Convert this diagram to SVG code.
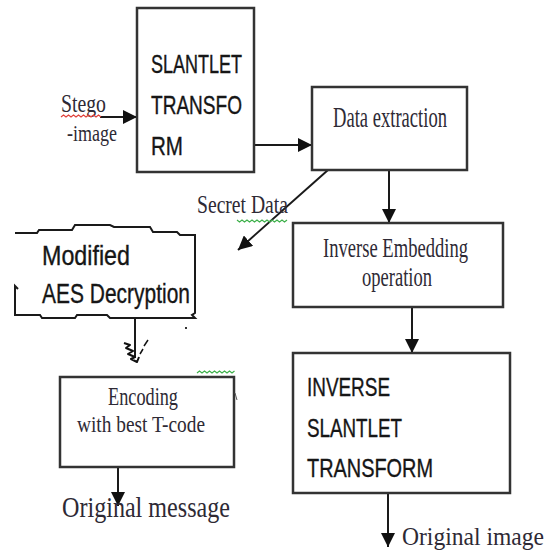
<svg xmlns="http://www.w3.org/2000/svg" width="556" height="560" viewBox="0 0 556 560">
  <style>
    .box { fill: #ffffff; stroke: #333333; stroke-width: 2.5; }
    .edge { stroke: #1a1a1a; stroke-width: 2; fill: none; }
    .sans { font-family: "Liberation Sans", Arial, sans-serif; fill: #161616; stroke: #161616; stroke-width: 0.35; }
    .serif { font-family: "Liberation Serif", "Times New Roman", serif; fill: #2e2a35; }
    .squig-red { stroke: #e0403a; stroke-width: 1.2; fill: none; }
    .squig-green { stroke: #3db04a; stroke-width: 1.2; fill: none; }
  </style>
  <defs>
    <marker id="arrow" viewBox="0 0 14 14" refX="14" refY="7" markerWidth="14" markerHeight="14" markerUnits="userSpaceOnUse" orient="auto">
      <path d="M0,0 L14,7 L0,14 Z" fill="#111111"/>
    </marker>
  </defs>

  <rect width="556" height="560" fill="#ffffff"/>

  <!-- connectors -->
  <g id="connectors">
    <line class="edge" x1="100" y1="117" x2="137" y2="117" marker-end="url(#arrow)"/>
    <line class="edge" x1="254" y1="145" x2="312" y2="145" marker-end="url(#arrow)"/>
    <line class="edge" x1="389" y1="170" x2="389" y2="223" marker-end="url(#arrow)"/>
    <line class="edge" x1="328" y1="170" x2="238" y2="250" marker-end="url(#arrow)"/>
    <line class="edge" x1="412" y1="307" x2="412" y2="353" marker-end="url(#arrow)"/>
    <line class="edge" x1="388" y1="493" x2="388" y2="547" marker-end="url(#arrow)"/>
    <line class="edge" x1="118" y1="460" x2="118" y2="506" marker-end="url(#arrow)"/>
    <!-- hand-drawn arrow below the decryption block -->
    <line class="edge" x1="135" y1="319" x2="135" y2="358" stroke-width="1.5"/>
    <path d="M124,343 L130,345 L126,348 L133,351 L128,354 L135,357 L131,359 L137,362 L139,357" stroke="#111" stroke-width="2" fill="none" stroke-linejoin="round"/>
    <path d="M140,354 L143,349 M144,346 L148,340" stroke="#111" stroke-width="1.5" fill="none"/>
  </g>

  <!-- input label -->
  <g id="stego-image">
    <text class="serif" x="61" y="112" font-size="25" textLength="45" lengthAdjust="spacingAndGlyphs">Stego</text>
    <path class="squig-red" d="M61,117 l2.5,-2 l2.5,2 l2.5,-2 l2.5,2 l2.5,-2 l2.5,2 l2.5,-2 l2.5,2 l2.5,-2 l2.5,2 l2.5,-2 l2.5,2 l2.5,-2 l2.5,2 l2.5,-2 l2.5,2"/>
    <text class="serif" x="67" y="141" font-size="24" textLength="50" lengthAdjust="spacingAndGlyphs">-image</text>
  </g>

  <g id="slantlet">
    <rect class="box" x="137" y="8" width="117" height="164"/>
    <text class="sans" x="151" y="73" font-size="25" textLength="91" lengthAdjust="spacingAndGlyphs">SLANTLET</text>
    <text class="sans" x="151" y="114" font-size="25" textLength="91" lengthAdjust="spacingAndGlyphs">TRANSFO</text>
    <text class="sans" x="151" y="155" font-size="25" textLength="32" lengthAdjust="spacingAndGlyphs">RM</text>
  </g>

  <g id="data-extraction">
    <rect class="box" x="312" y="87" width="155" height="83"/>
    <text class="serif" x="333" y="127" font-size="30" textLength="114" lengthAdjust="spacingAndGlyphs">Data extraction</text>
  </g>

  <g id="secret-data">
    <text class="serif" x="197" y="213" font-size="26" textLength="91" lengthAdjust="spacingAndGlyphs">Secret  Data</text>
    <path class="squig-green" d="M237,220 l2.5,2 l2.5,-2 l2.5,2 l2.5,-2 l2.5,2 l2.5,-2 l2.5,2 l2.5,-2 l2.5,2 l2.5,-2 l2.5,2 l2.5,-2 l2.5,2 l2.5,-2 l2.5,2 l2.5,-2 l2.5,2 l2.5,-2 l2.5,2 l2.5,-2"/>
  </g>

  <g id="inverse-embedding">
    <rect class="box" x="293" y="223" width="210" height="84"/>
    <text class="serif" x="323" y="257" font-size="28" textLength="145" lengthAdjust="spacingAndGlyphs">Inverse Embedding</text>
    <text class="serif" x="362" y="286" font-size="28" textLength="70" lengthAdjust="spacingAndGlyphs">operation</text>
  </g>

  <g id="aes-decryption">
    <path d="M15,233 L37,233 L39,230 L72,230 L75,225 L110,225 L114,227 L150,227 L153,232 L177,232 L180,235 L195,235 L195,313 L192,315 L195,318 L110,318 L107,315 L77,315 L75,318 L42,318 L40,315 L15,315 L15,286 L18,289" fill="#ffffff" stroke="#1a1a1a" stroke-width="2"/>
    <text class="sans" x="42" y="265" font-size="27" textLength="88" lengthAdjust="spacingAndGlyphs">Modified</text>
    <text class="sans" x="42" y="303" font-size="27" textLength="148" lengthAdjust="spacingAndGlyphs">AES Decryption</text>
    <rect x="185" y="327" width="2" height="2" fill="#333"/>
  </g>

  <g id="encoding">
    <rect class="box" x="60" y="377" width="174" height="90"/>
    <path d="M235,393 L237,400" stroke="#555" stroke-width="1"/>
    <path class="squig-green" d="M197,373 l2.5,-2 l2.5,2 l2.5,-2 l2.5,2 l2.5,-2 l2.5,2 l2.5,-2 l2.5,2 l2.5,-2 l2.5,2 l2.5,-2 l2.5,2 l2.5,-2 l2.5,2 l2.5,-2"/>
    <text class="serif" x="108" y="405" font-size="25" textLength="70" lengthAdjust="spacingAndGlyphs">Encoding</text>
    <text class="serif" x="77" y="432" font-size="24" textLength="128" lengthAdjust="spacingAndGlyphs">with best T-code</text>
  </g>

  <g id="original-message">
    <text class="serif" x="62" y="517" font-size="29" textLength="168" lengthAdjust="spacingAndGlyphs">Original message</text>
  </g>

  <g id="inverse-slantlet">
    <rect class="box" x="293" y="353" width="217" height="140"/>
    <text class="sans" x="307" y="396" font-size="26" textLength="83" lengthAdjust="spacingAndGlyphs">INVERSE</text>
    <text class="sans" x="307" y="437" font-size="26" textLength="95" lengthAdjust="spacingAndGlyphs">SLANTLET</text>
    <text class="sans" x="307" y="477" font-size="26" textLength="126" lengthAdjust="spacingAndGlyphs">TRANSFORM</text>
  </g>

  <g id="original-image">
    <text class="serif" x="402" y="545" font-size="25" textLength="142" lengthAdjust="spacingAndGlyphs">Original image</text>
  </g>
</svg>
